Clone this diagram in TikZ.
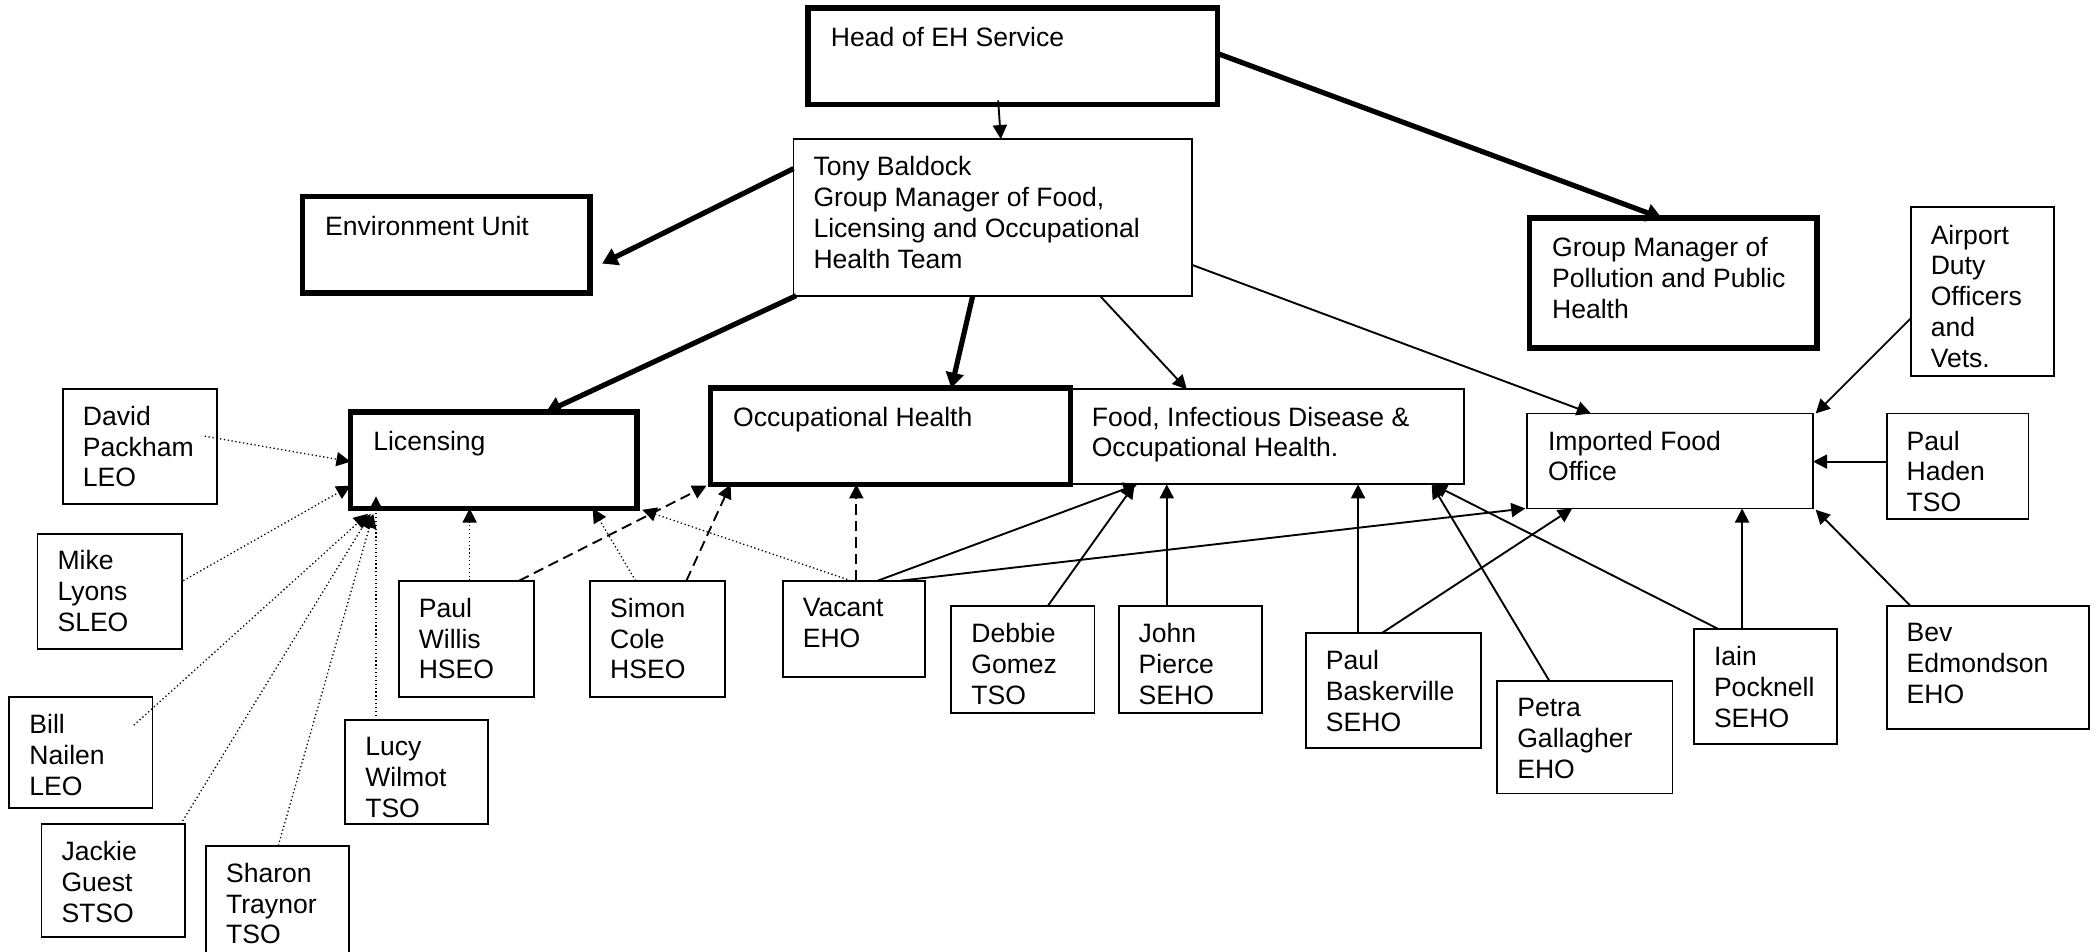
\documentclass[tikz,border=0pt]{standalone}
\usepackage{fontspec}
\setmainfont{Liberation Sans}
\usetikzlibrary{arrows.meta,calc,fit}
\newcommand\bx[6]{%
  \coordinate (#2-a) at (#3,#4);
  \coordinate (#2-b) at (#5,#6);
  \node[#1, fit=(#2-a)(#2-b)] (#2) {};}
\begin{document}
\begin{tikzpicture}[x=0.02cm,y=-0.02cm,
  thinbox/.style={draw, line width=0.8pt, inner sep=0pt, outer sep=0pt},
  thickbox/.style={draw, line width=2.3pt, inner sep=0pt, outer sep=0pt},
  txt/.style={anchor=north west, inner sep=0pt, outer sep=0pt, align=left,
    font=\fontsize{11.3pt}{13.1pt}\selectfont},
  conn/.style={line width=0.8pt, -{Triangle[length=6pt,width=6pt]}},
  heavy/.style={line width=2.2pt, -{Triangle[length=6.5pt,width=7.5pt]}},
  dots/.style={conn, line width=0.55pt, dash pattern=on 0.55pt off 1.1pt},
  dashes/.style={conn, dash pattern=on 4.5pt off 2.5pt}]
\useasboundingbox (0,0) rectangle (1568,711.5);
\clip (0,0) rectangle (1568,711.5);

% boxes
\bx{thickbox}{head}{604}{6}{910}{78}
\bx{thinbox}{tony}{593}{104}{891}{221}
\bx{thickbox}{env}{226}{147}{441}{219}
\bx{thickbox}{gm}{1143}{163}{1358}{260}
\bx{thinbox}{air}{1428}{155}{1535}{281}
\bx{thickbox}{lic}{262}{308}{476}{380}
\bx{thickbox}{occ}{531}{290}{800}{362}
\bx{thinbox}{food}{800}{291}{1094}{362}
\bx{thinbox}{imp}{1141}{309}{1355}{380}
\bx{thinbox}{haden}{1410}{309}{1516}{388}
\bx{thinbox}{david}{47}{291}{162}{377}
\bx{thinbox}{mike}{28}{399}{136}{485}
\bx{thinbox}{bill}{7}{521}{114}{604}
\bx{thinbox}{jackie}{31}{616}{138}{700}
\bx{thinbox}{sharon}{154}{632}{261}{730}
\bx{thinbox}{lucy}{258}{538}{365}{616}
\bx{thinbox}{willis}{298}{434}{399}{521}
\bx{thinbox}{cole}{441}{434}{542}{521}
\bx{thinbox}{vacant}{585}{434}{691}{506}
\bx{thinbox}{debbie}{711}{453}{818}{533}
\bx{thinbox}{john}{836}{453}{943}{533}
\bx{thinbox}{bask}{976}{473}{1107}{559}
\bx{thinbox}{petra}{1119}{509}{1250}{593}
\bx{thinbox}{iain}{1266}{470}{1373}{556}
\bx{thinbox}{bev}{1410}{453}{1561}{545}

% texts
\node[txt] (head-t) at ($(head.north west)+(17,14.5)$) {Head of EH Service};
\node[txt] (tony-t) at ($(tony.north west)+(15,13)$) {Tony Baldock\\Group Manager of Food,\\Licensing and Occupational\\Health Team};
\node[txt] (env-t) at ($(env.north west)+(17,14.5)$) {Environment Unit};
\node[txt] (gm-t) at ($(gm.north west)+(17,14.5)$) {Group Manager of\\Pollution and Public\\Health};
\node[txt] (air-t) at ($(air.north west)+(15,13)$) {Airport\\Duty\\Officers\\and\\Vets.};
\node[txt] (lic-t) at ($(lic.north west)+(17,14.5)$) {Licensing};
\node[txt] (occ-t) at ($(occ.north west)+(17,14.5)$) {Occupational Health};
\node[txt] (food-t) at ($(food.north west)+(16,13)$) {Food, Infectious Disease \&\\Occupational Health.};
\node[txt] (imp-t) at ($(imp.north west)+(16,13)$) {Imported Food\\Office};
\node[txt] (haden-t) at ($(haden.north west)+(15,13)$) {Paul\\Haden\\TSO};
\node[txt] (david-t) at ($(david.north west)+(15,12.5)$) {David\\Packham\\LEO};
\node[txt] (mike-t) at ($(mike.north west)+(15,12.5)$) {Mike\\Lyons\\SLEO};
\node[txt] (bill-t) at ($(bill.north west)+(15,13)$) {Bill\\Nailen\\LEO};
\node[txt] (jackie-t) at ($(jackie.north west)+(15,13)$) {Jackie\\Guest\\STSO};
\node[txt] (sharon-t) at ($(sharon.north west)+(15,13)$) {Sharon\\Traynor\\TSO};
\node[txt] (lucy-t) at ($(lucy.north west)+(15,13)$) {Lucy\\Wilmot\\TSO};
\node[txt] (willis-t) at ($(willis.north west)+(15,13)$) {Paul\\Willis\\HSEO};
\node[txt] (cole-t) at ($(cole.north west)+(15,13)$) {Simon\\Cole\\HSEO};
\node[txt] (vacant-t) at ($(vacant.north west)+(15,13)$) {Vacant\\EHO};
\node[txt] (debbie-t) at ($(debbie.north west)+(15,13)$) {Debbie\\Gomez\\TSO};
\node[txt] (john-t) at ($(john.north west)+(15,13)$) {John\\Pierce\\SEHO};
\node[txt] (bask-t) at ($(bask.north west)+(15,13)$) {Paul\\Baskerville\\SEHO};
\node[txt] (petra-t) at ($(petra.north west)+(15,13)$) {Petra\\Gallagher\\EHO};
\node[txt] (iain-t) at ($(iain.north west)+(15,13)$) {Iain\\Pocknell\\SEHO};
\node[txt] (bev-t) at ($(bev.north west)+(15,13)$) {Bev\\Edmondson\\EHO};

% connectors
\draw[conn] ($(head.south west)+(142,-3)$) -- ($(tony.north west)+(155,0)$);
\draw[heavy] ($(head.north east)+(0,34)$) -- ($(gm.north west)+(99,0)$);
\draw[heavy] ($(tony.north west)+(0,22)$) -- ($(env.north east)+(9,50)$);
\draw[heavy] ($(tony.south west)+(2,0)$) -- ($(lic.north west)+(146,0)$);
\draw[heavy] ($(tony.south west)+(134,0)$) -- ($(occ.north west)+(180,0)$);
\draw[conn] ($(tony.south west)+(229,0)$) -- ($(food.north west)+(87,0)$);
\draw[conn] ($(tony.north east)+(0,94)$) -- ($(imp.north west)+(48,0)$);
\draw[conn] ($(air.north west)+(0,83)$) -- ($(imp.north east)+(2,0)$);
\draw[conn] ($(haden.north west)+(0,36)$) -- ($(imp.north east)+(0,36)$);
\draw[conn] ($(bev.north west)+(18,0)$) -- ($(imp.south east)+(2,1)$);
\draw[conn] ($(iain.north west)+(36,0)$) -- ($(imp.south west)+(161,0)$);
\draw[conn] ($(iain.north west)+(18,0)$) -- ($(food.south east)+(-23,0)$);
\draw[conn] ($(petra.north west)+(39,0)$) -- ($(food.south east)+(-24,0)$);
\draw[conn] ($(bask.north west)+(39,0)$) -- ($(food.south west)+(215,0)$);
\draw[conn] ($(bask.north west)+(57,0)$) -- ($(imp.south west)+(34,0)$);
\draw[conn] ($(john.north west)+(36,0)$) -- ($(food.south west)+(72,0)$);
\draw[conn] ($(debbie.north west)+(72,0)$) -- ($(food.south west)+(48,0)$);
\draw[conn] ($(vacant.north west)+(71,0)$) -- ($(food.south west)+(50,0)$);
\draw[conn] ($(vacant.north west)+(88,0)$) -- ($(imp.south west)+(-1,0)$);
\draw[dashes] ($(vacant.north west)+(55,0)$) -- ($(occ.south west)+(109,0)$);
\draw[dots] ($(vacant.north west)+(51,0)$) -- ($(lic.south east)+(4,1)$);
\draw[dots] ($(willis.north west)+(53,0)$) -- ($(lic.south west)+(89,0)$);
\draw[dashes] ($(willis.north west)+(90,0)$) -- ($(occ.south west)+(-3,1)$);
\draw[dots] ($(cole.north west)+(34,0)$) -- ($(lic.south east)+(-33,0)$);
\draw[dashes] ($(cole.north west)+(72,0)$) -- ($(occ.south west)+(15,0)$);
\draw[dots] ($(david.north east)+(-9,35)$) -- ($(lic.north west)+(0,37)$);
\draw[dots] ($(mike.north east)+(1,35)$) -- ($(lic.north west)+(0,55)$);
\draw[dots] ($(bill.north east)+(-14,21)$) -- ($(lic.south west)+(13,4)$);
\draw[dots] ($(jackie.north east)+(-3,0)$) -- ($(lic.south west)+(15,4)$);
\draw[dots] ($(sharon.north west)+(54,0)$) -- ($(lic.south west)+(17,4)$);
\draw[dots] ($(lucy.north west)+(23,0)$) -- ($(lic.south west)+(19,-9)$);
\end{tikzpicture}
\end{document}
